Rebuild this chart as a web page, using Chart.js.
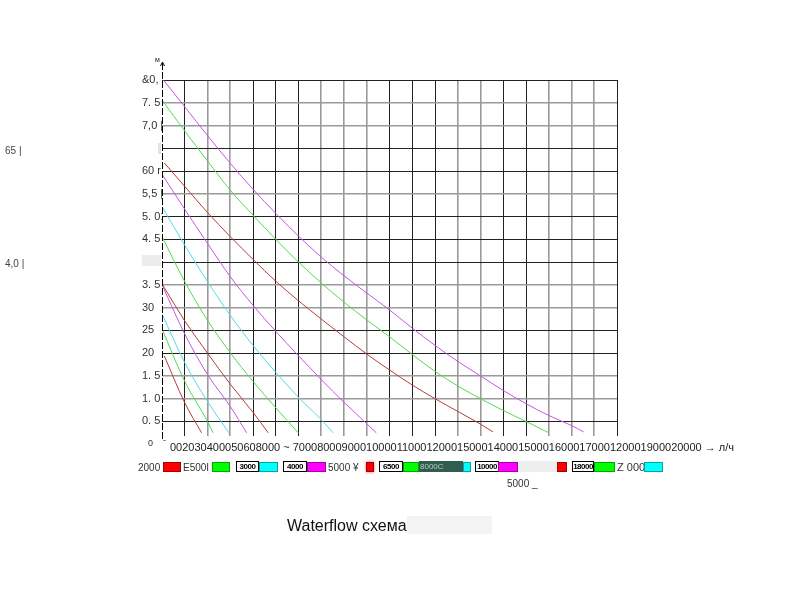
<!DOCTYPE html>
<html lang="ru">
<head>
<meta charset="UTF-8">
<title>Waterflow схема</title>
<script src="https://cdn.jsdelivr.net/npm/chart.js@4"></script>
<style>
    html, body { margin: 0; padding: 0; background: #fff; }
    body {
        width: 790px; height: 597px; position: relative; overflow: hidden;
        font-family: 'Liberation Sans', Arial, sans-serif; color: #333;
    }
    #chart { position: absolute; left: 0; top: 0; }
    .t { position: absolute; white-space: nowrap; line-height: 13px; }
    .sw { position: absolute; height: 10px; top: 462px; box-sizing: border-box; border: 1px solid rgba(0,0,0,0.35); }
    .bx { position: absolute; height: 11px; top: 461px; box-sizing: border-box; background: #fff;
          border: 1px solid #000; font: bold 8px 'Liberation Sans Narrow', 'Liberation Sans', sans-serif;
          line-height: 9px; text-align: center; color: #000; letter-spacing: -0.5px; }
</style>
</head>
<body>
<canvas id="chart" width="790" height="597"></canvas>
<div id="overlay"></div>
<script>
// pump curves: flow (л/ч) and head (м), top curve first
const flow1 = [0, 1000, 2000, 3000, 4000, 5000, 6000, 7000, 8000, 9000, 10000, 11000, 12000, 13000, 14000, 15000, 16000, 17000, 18000, 18530];
const head1 = [8.04, 7.41, 6.78, 6.17, 5.6, 5.07, 4.57, 4.11, 3.7, 3.32, 2.95, 2.55, 2.17, 1.82, 1.5, 1.18, 0.89, 0.63, 0.41, 0.27];
const flow2 = [0, 1000, 2000, 3000, 4000, 5000, 6000, 7000, 8000, 9000, 10000, 11000, 12000, 13000, 14000, 15000, 16000, 16960];
const head2 = [7.56, 6.88, 6.22, 5.58, 5.03, 4.5, 4.0, 3.54, 3.12, 2.73, 2.36, 1.97, 1.6, 1.28, 1.0, 0.74, 0.5, 0.26];
const flow3 = [100, 1000, 2000, 3000, 4000, 5000, 6000, 7000, 8000, 9000, 10000, 11000, 12000, 13000, 14000, 14550];
const head3 = [6.18, 5.66, 5.09, 4.56, 4.06, 3.58, 3.15, 2.75, 2.36, 1.98, 1.63, 1.3, 1.0, 0.72, 0.44, 0.27];
const flow4 = [0, 1000, 2000, 3000, 4000, 5000, 6000, 7000, 8000, 9000, 9420];
const head4 = [5.93, 5.16, 4.41, 3.68, 3.05, 2.48, 1.94, 1.42, 0.92, 0.45, 0.25];
const flow5 = [0, 1000, 2000, 3000, 4000, 5000, 6000, 7000, 7520];
const head5 = [5.22, 4.37, 3.57, 2.83, 2.17, 1.58, 1.03, 0.54, 0.25];
const flow6 = [0, 1000, 2000, 3000, 4000, 5000, 5990];
const head6 = [4.56, 3.57, 2.72, 2.01, 1.38, 0.8, 0.25];
const flow7 = [0, 1000, 2000, 3000, 4000, 4670];
const head7 = [3.52, 2.71, 2.0, 1.32, 0.7, 0.25];
const flow8 = [0, 1000, 2000, 3000, 3720];
const head8 = [3.5, 2.42, 1.53, 0.83, 0.25];
const flow9 = [0, 1000, 2000, 2940];
const head9 = [2.86, 1.79, 0.94, 0.25];
const flow10 = [0, 1000, 2000, 2250];
const head10 = [2.53, 1.38, 0.5, 0.25];
const flow11 = [100, 1000, 1740];
const head11 = [1.94, 0.91, 0.25];

const flows = [flow1, flow2, flow3, flow4, flow5, flow6, flow7, flow8, flow9, flow10, flow11];
const heads = [head1, head2, head3, head4, head5, head6, head7, head8, head9, head10, head11];

// legend (as printed on the sheet)
const legendLabels = ['2000', 'E500I', '3000', '4000', '5000 ¥', '6500', '8000C', '10000', '', '18000', 'Z 000'];

// axes
const yTickValues = [8.0, 7.5, 7.0, 6.5, 6.0, 5.5, 5.0, 4.5, 4.0, 3.5, 3.0, 2.5, 2.0, 1.5, 1.0, 0.5];
const yTickLabels = ['&0,', '7. 5', '7,0 |', '', '60 r', '5,5 |', '5. 01', '4. 5', '', '3. 5', '30', '25', '20', '1. 5', '1. 0', '0. 5'];
const xTickLabels = ['00', '20', '30', '400', '050', '60', '8000', ' ~ ', '7000', '8000', '9000', '10000', '11000',
    '12000', '15000', '14000', '15000', '16000', '17000', '12000', '19000', '20000'];
const xUnit = ' → л/ч';
const yUnit = 'м';

// styling
const RED = '#b83a3a', GREEN = '#4fdc4f', CYAN = '#4fdde4', MAGENTA = '#c455e6';
const lineColors = [MAGENTA, GREEN, RED, MAGENTA, CYAN, GREEN, RED, MAGENTA, CYAN, GREEN, RED];
const xDark = [1, 4, 5, 6, 10, 11, 12, 15, 16, 20];
const yDark = [8.0, 6.5, 6.0, 5.0, 4.5, 4.0, 2.5, 2.0, 0.5];

const datasets = flows.map((f, i) => ({
    label: 'curve ' + (i + 1),
    data: f.map((x, j) => ({ x: x, y: heads[i][j] })),
    borderColor: lineColors[i],
    borderWidth: 1,
    pointRadius: 0,
    cubicInterpolationMode: 'monotone',
    fill: false
}));

// dashed vertical axis with a small arrow at the top
const dashedAxis = {
    id: 'dashedAxis',
    afterDraw(chart) {
        const ctx = chart.ctx;
        const x = Math.round(chart.scales.x.getPixelForValue(0)) + 0.5;
        const top = chart.chartArea.top - 17;
        const bottom = chart.chartArea.bottom + 3;
        ctx.save();
        ctx.strokeStyle = '#000';
        ctx.lineWidth = 1;
        ctx.setLineDash([7, 2]);
        ctx.beginPath();
        ctx.moveTo(x, top);
        ctx.lineTo(x, bottom);
        ctx.stroke();
        ctx.setLineDash([]);
        ctx.beginPath();
        ctx.moveTo(x - 2, top + 3);
        ctx.lineTo(x, top - 1);
        ctx.lineTo(x + 2, top + 3);
        ctx.stroke();
        ctx.restore();
    }
};

new Chart(document.getElementById('chart'), {
    type: 'line',
    data: { datasets: datasets },
    plugins: [dashedAxis],
    options: {
        responsive: false,
        animation: false,
        layout: { padding: { left: 142, top: 80, right: 173, bottom: 161 } },
        plugins: { legend: { display: false }, tooltip: { enabled: false } },
        scales: {
            x: {
                type: 'linear', min: 0, max: 20000,
                afterBuildTicks: s => { s.ticks = []; for (let v = 0; v <= 20000; v += 1000) s.ticks.push({ value: v }); },
                afterFit: s => { s.height = 0; },
                ticks: { display: false, autoSkip: false },
                border: { display: false },
                grid: {
                    drawTicks: false,
                    color: c => c.index === 0 ? 'rgba(0,0,0,0)' : (xDark.includes(c.index) ? '#222' : '#9a9a9a'),
                    lineWidth: c => xDark.includes(c.index) ? 1 : 1.6
                }
            },
            y: {
                min: 0.18, max: 8.0,
                afterBuildTicks: s => { s.ticks = yTickValues.slice().reverse().map(v => ({ value: v })); },
                afterFit: s => { s.width = 20; },
                border: { display: false },
                ticks: {
                    crossAlign: 'far', padding: 0, color: '#333',
                    font: { family: 'Liberation Sans', size: 11 },
                    callback: v => yTickLabels[yTickValues.indexOf(v)]
                },
                grid: {
                    drawTicks: false,
                    color: c => yDark.includes(c.tick.value) ? '#222' : '#9a9a9a',
                    lineWidth: c => yDark.includes(c.tick.value) ? 1 : 1.6
                }
            }
        }
    }
});

// overlay texts
const ov = document.getElementById('overlay');
function txt(s, left, top, size, extra) {
    const d = document.createElement('div');
    d.className = 't';
    d.textContent = s;
    d.style.left = left + 'px';
    d.style.top = top + 'px';
    d.style.fontSize = size + 'px';
    if (extra) Object.assign(d.style, extra);
    ov.appendChild(d);
    return d;
}
txt(yUnit, 155, 53, 7, { color: '#222' });
txt('0', 148, 437, 9, { color: '#333' });
txt('-', 163, 434, 9, { color: '#333' });
txt(xTickLabels.join('') + xUnit, 170, 441, 11, { color: '#222' });
txt('65 |', 5, 144, 10, { color: '#444' });
txt('4,0 |', 5, 257, 10, { color: '#444' });
txt('', 142, 255, 10, { width: '19px', height: '11px', background: '#ececec' });
txt('', 158, 143, 10, { width: '3px', height: '11px', background: '#e4e4e4' });

// legend row
const legendColors = ['#ff0000', '#00ff00', '#00ffff', '#ff00ff', '#ff0000', '#00ff00', '#00ffff', '#ff00ff', '#ff0000', '#00ff00', '#00ffff'];
// label style and positions: [kind, labelLeft, labelWidth, swatchLeft, swatchWidth]
const legendLayout = [
    ['plain', 138, 0, 163, 18],
    ['plain', 183, 0, 212, 18],
    ['box', 236, 23, 259, 19],
    ['box', 283, 24, 307, 19],
    ['plain', 328, 0, 366, 8],
    ['box', 379, 24, 403, 16],
    ['dark', 419, 44, 463, 8],
    ['box', 475, 24, 498, 20],
    ['blank', 518, 39, 557, 10],
    ['box', 572, 22, 594, 21],
    ['plain', 617, 0, 644, 19]
];
legendLayout.forEach((l, i) => {
    const [kind, lx, lw, sx, sw] = l;
    if (kind === 'plain') {
        txt(legendLabels[i], lx, 461, i === 10 ? 11 : 10, { color: '#333' });
    } else if (kind === 'box') {
        const b = document.createElement('div');
        b.className = 'bx';
        b.textContent = legendLabels[i];
        b.style.left = lx + 'px';
        b.style.width = lw + 'px';
        ov.appendChild(b);
    } else if (kind === 'dark') {
        txt(legendLabels[i], lx, 461, 8, { width: lw + 'px', height: '11px', lineHeight: '11px', background: '#2f5e50', color: '#b8c8c0', paddingLeft: '1px', boxSizing: 'border-box' });
    } else {
        txt('', lx, 461, 8, { width: lw + 'px', height: '11px', background: '#eeeeee' });
    }
    const s = document.createElement('div');
    s.className = 'sw';
    s.style.left = sx + 'px';
    s.style.width = sw + 'px';
    s.style.background = legendColors[i];
    if (kind === 'plain' && i === 4) s.style.boxShadow = '0 0 3px #ff6060';
    ov.appendChild(s);
});
txt('5000 _', 507, 477, 10, { color: '#333' });

// title
txt('', 407, 516, 10, { width: '85px', height: '18px', background: '#f3f3f3' });
txt('Waterflow схема', 287, 517, 16, { color: '#111', lineHeight: '18px' });
</script>
</body>
</html>
